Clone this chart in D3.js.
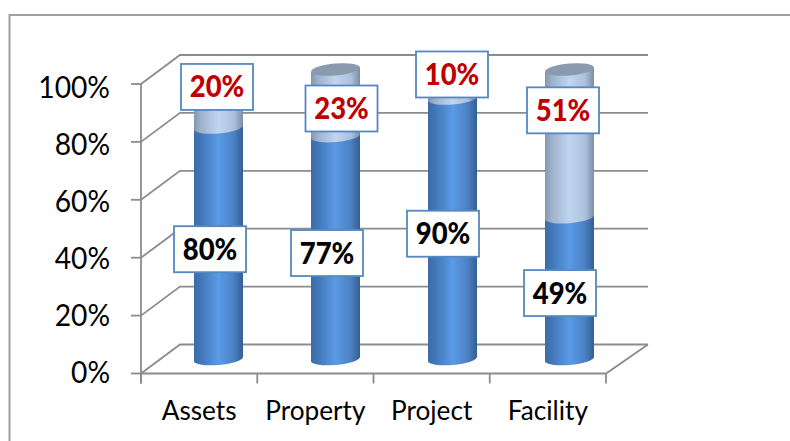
<!DOCTYPE html>
<html>
<head>
<meta charset="utf-8">
<script src="https://cdn.jsdelivr.net/npm/d3@7"></script>
<style>
  html, body { margin: 0; padding: 0; background: #fff; overflow: hidden; }
  text { font-family: Lato, "Open Sans", sans-serif; }
</style>
</head>
<body>
<svg id="chart" width="790" height="441"></svg>
<script>
const categories = ["Assets", "Property", "Project", "Facility"];
const lowerValues = [80, 77, 90, 49];
const upperValues = [20, 23, 10, 51];
const yTicks = [0, 20, 40, 60, 80, 100];

const svg = d3.select("#chart");

const x = d3.scaleBand().domain(categories).range([141, 606]);
const y = d3.scaleLinear().domain([0, 100]).range([373.5, 84]);
// the cylinders sit mid depth and are spaced a little wider than the ticks
const barX = d3.scalePoint().domain(categories).range([218.5, 569.5]);
// tick labels don't line up exactly with the ticks in the original
const yLabel = d3.scaleLinear().domain([0, 100]).range([383, 97.5]);

const depthX = 39;
const depthXRight = 42;
const depthY = -29;
const barWidth = 49;
const ry = 6;
const tilt = -5;
const gridColor = "#8c8c8c";

// Lato is wider than the original font, so squeeze it to fit
function condense(sel, factor) {
    sel.each(function () {
        d3.select(this)
            .attr("lengthAdjust", "spacingAndGlyphs")
            .attr("textLength", this.getComputedTextLength() * factor);
    });
}

// the frame around the chart, open on the right and bottom
svg.append("path")
    .attr("d", "M9.5,441V15H790")
    .attr("fill", "none")
    .attr("stroke", "#a0a0a0")
    .attr("stroke-width", 2);

const defs = svg.append("defs");
function cylinderGradient(id, stops) {
    const g = defs.append("linearGradient").attr("id", id);
    stops.forEach(([offset, color]) => {
        g.append("stop").attr("offset", offset).attr("stop-color", color);
    });
}
cylinderGradient("blueBody", [["0%", "#3c6ca6"], ["12%", "#3f75b5"], ["50%", "#5b9ae6"], ["80%", "#4c82c6"], ["100%", "#355f92"]]);
cylinderGradient("paleBody", [["0%", "#8597ae"], ["14%", "#9eb2cc"], ["50%", "#c0d5f0"], ["82%", "#abc0dc"], ["100%", "#7c8ea6"]]);
defs.append("filter").attr("id", "soft")
    .attr("x", "-5%").attr("y", "-5%").attr("width", "110%").attr("height", "110%")
    .append("feGaussianBlur").attr("stdDeviation", 0.5);

// walls and floor
const left = x.range()[0];
const right = x.range()[1];
const grid = svg.append("g")
    .attr("fill", "none")
    .attr("stroke", gridColor)
    .attr("stroke-width", 1.8)
    .attr("filter", "url(#soft)");
yTicks.forEach(t => {
    const y0 = y(t);
    grid.append("path")
        .attr("d", d3.line()([[left, y0], [left + depthX, y0 + depthY], [right + depthXRight, y0 + depthY]]));
    grid.append("line")
        .attr("x1", left - 10).attr("x2", left)
        .attr("y1", y0).attr("y2", y0);
});
grid.append("path")
    .attr("d", d3.line()([[left, y(0)], [right, y(0)], [right + depthXRight, y(0) + depthY]]));
grid.append("line")
    .attr("x1", left).attr("x2", left)
    .attr("y1", y(100)).attr("y2", y(0) + 10);
categories.concat([null]).forEach(c => {
    const tx = c ? x(c) : right;
    grid.append("line").attr("x1", tx).attr("x2", tx).attr("y1", y(0)).attr("y2", y(0) + 10);
});

// tick labels
svg.append("g").selectAll("text").data(yTicks).join("text")
    .attr("x", 110)
    .attr("y", d => yLabel(d))
    .attr("text-anchor", "end")
    .attr("font-size", 31)
    .attr("fill", "#000")
    .text(d => d + "%")
    .call(condense, 0.91);
svg.append("g").selectAll("text").data(categories).join("text")
    .attr("x", d => x(d) + x.bandwidth() / 2)
    .attr("y", 420)
    .attr("text-anchor", "middle")
    .attr("font-size", 27)
    .attr("fill", "#000")
    .text(d => d)
    .call(condense, 0.97);

// cylinders
const levelY = v => y(v) + depthY / 2;

function bodyPath(c, from, to) {
    const l = barX(c) - barWidth / 2;
    const r = barX(c) + barWidth / 2;
    const dy = Math.sin(tilt * Math.PI / 180) * barWidth / 2;
    return `M${l},${levelY(to) - dy}L${r},${levelY(to) + dy}` +
        `L${r},${levelY(from) + dy}A${barWidth / 2},${ry} ${tilt} 0 1 ${l},${levelY(from) - dy}Z`;
}

const bars = svg.append("g").attr("filter", "url(#soft)");
categories.forEach((c, i) => {
    const total = lowerValues[i] + upperValues[i];
    const g = bars.append("g");
    g.append("path")
        .attr("d", bodyPath(c, 0, lowerValues[i] + 2))
        .attr("fill", "url(#blueBody)");
    // the pale part hangs over the blue one, its curved bottom edge is the boundary
    g.append("path")
        .attr("d", bodyPath(c, lowerValues[i], total))
        .attr("fill", "url(#paleBody)");
    g.append("ellipse")
        .attr("transform", `translate(${barX(c)},${levelY(total)}) rotate(${tilt})`)
        .attr("rx", barWidth / 2).attr("ry", ry)
        .attr("fill", "#8a9bb0");
});

// data labels were dragged by hand in the original, so each has its own nudge
const lowerNudge = [[-8.5, 6], [-8.5, 5.5], [-9.5, 5], [-9.5, 5]];
const upperNudge = [[-1.5, -11.5], [6, 5.7], [-0.5, -9.5], [-6.5, -33]];
const boxW = 72;
const boxH = 46;

function dataLabel(c, value, mid, nudge, color) {
    const g = svg.append("g")
        .attr("transform", `translate(${barX(c) + nudge[0]},${levelY(mid) + nudge[1]})`);
    g.append("rect")
        .attr("x", -boxW / 2).attr("y", -boxH / 2)
        .attr("width", boxW).attr("height", boxH)
        .attr("fill", "#fff")
        .attr("stroke", "#5588c2")
        .attr("stroke-width", 1.8);
    g.append("text")
        .attr("text-anchor", "middle")
        .attr("y", 10.5)
        .attr("font-size", 30.5)
        .attr("font-weight", 900)
        .attr("fill", color)
        .text(value + "%")
        .call(condense, 0.9);
}

categories.forEach((c, i) => {
    dataLabel(c, lowerValues[i], lowerValues[i] / 2, lowerNudge[i], "#000");
    dataLabel(c, upperValues[i], lowerValues[i] + upperValues[i] / 2, upperNudge[i], "#c00000");
});
</script>
</body>
</html>
